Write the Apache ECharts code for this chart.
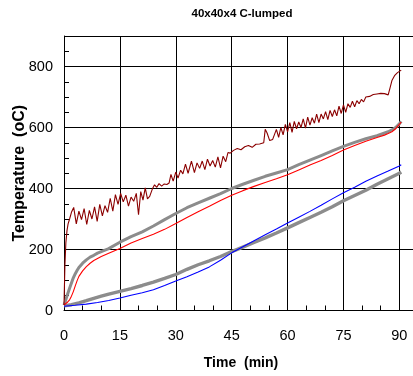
<!DOCTYPE html>
<html>
<head>
<meta charset="utf-8">
<script src="https://cdn.jsdelivr.net/npm/echarts@6/dist/echarts.min.js"></script>
<style>
  html, body { margin: 0; padding: 0; background: #fff; }
  #chart { width: 413px; height: 376px; }
</style>
</head>
<body>
<div id="chart"></div>
<script>
// Axis tick values
const timeTicks = [0, 15, 30, 45, 60, 75, 90];
const tempTicks = [0, 200, 400, 600, 800];

// Upper grey measured curve (time in min, temperature in oC)
const greyUpperT = [0, 0.3, 0.6, 1, 1.5, 2, 2.5, 3, 3.5, 4, 5, 6, 7, 8, 9, 10, 12, 15, 18, 21, 24, 27, 30, 33, 36, 39, 42, 45, 48, 51, 54, 57, 60, 63, 66, 69, 72, 75, 78, 81, 84, 87, 88, 89, 90, 90.5];
const greyUpperV = [18, 28, 40, 55, 73, 90, 107, 120, 131, 141, 155, 166, 175, 181, 188, 193, 203, 224, 242, 258, 277, 298, 318, 337, 353, 368, 383, 400, 414, 427, 440, 451, 462, 478, 493, 508, 523, 538, 551, 563, 573, 586, 592, 600, 612, 620];

// Lower grey measured curve
const greyLowerT = [0, 2, 4, 6, 8, 10, 12, 15, 18, 21, 24, 27, 30, 33, 36, 39, 42, 45, 48, 51, 54, 57, 60, 63, 66, 69, 72, 75, 78, 81, 84, 87, 90, 90.5];
const greyLowerV = [15, 19, 25, 32, 40, 47, 54, 63, 72, 82, 93, 105, 118, 135, 150, 163, 177, 193, 208, 223, 238, 254, 271, 288, 305, 322, 340, 360, 377, 394, 414, 432, 450, 454];

// Red curve
const redT = [0, 0.5, 1, 1.5, 2, 2.5, 3, 3.5, 4, 5, 6, 7, 8, 10, 12, 15, 18, 21, 24, 27, 30, 33, 36, 39, 42, 45, 48, 51, 54, 57, 60, 63, 66, 69, 72, 75, 78, 81, 84, 86, 87, 88, 89, 90, 90.5];
const redV = [18, 22, 28, 35, 47, 62, 80, 97, 112, 130, 144, 155, 164, 177, 188, 203, 221, 236, 250, 266, 285, 305, 324, 342, 361, 378, 393, 407, 420, 432, 445, 461, 477, 492, 508, 526, 541, 555, 567, 575, 580, 586, 596, 610, 618];

// Blue curve
const blueT = [0, 3, 6, 9, 12, 15, 18, 21, 24, 27, 30, 33, 36, 39, 42, 45, 48, 51, 54, 57, 60, 63, 66, 69, 72, 75, 78, 81, 84, 87, 90, 90.5];
const blueV = [14, 17, 21, 26, 33, 41, 50, 58, 68, 82, 97, 111, 126, 143, 165, 189, 209, 229, 248, 267, 287, 306, 325, 345, 366, 386, 404, 424, 441, 457, 474, 478];

// Dark red (noisy) curve
const darkT = [0, 0.25, 0.5, 0.8, 1.1, 1.5, 2.0, 2.6, 3.3, 4.0, 4.7, 5.4, 6.1, 6.8, 7.5, 8.2, 8.9, 9.6, 10.3, 11.0, 11.7, 12.4, 13.1, 13.8, 14.5, 15.2, 15.9, 16.6, 17.3, 18.0, 18.7, 19.4, 20.0, 20.6, 21.2, 21.8, 22.4, 23.0, 23.7, 24.3, 24.9, 25.5, 26.2, 26.9, 27.6, 28.2, 28.7, 29.3, 30.0, 30.6, 31.3, 31.9, 32.6, 33.3, 34.2, 35.0, 35.7, 36.4, 37.1, 37.8, 38.5, 39.2, 39.9, 40.6, 41.3, 42.0, 42.7, 43.4, 44.0, 44.6, 45.5, 46.5, 47.5, 48.5, 49.5, 50.5, 51.5, 52.5, 53.6, 54.0, 54.5, 55.2, 56.0, 56.5, 57.0, 57.6, 58.2, 58.8, 59.4, 60.0, 60.6, 61.2, 61.8, 62.4, 63.0, 63.6, 64.2, 64.8, 65.4, 66.0, 66.6, 67.2, 67.8, 68.4, 69.0, 69.6, 70.2, 70.8, 71.4, 72.0, 72.6, 73.2, 73.8, 74.4, 75.0, 75.6, 76.2, 76.8, 77.4, 78.0, 78.6, 79.2, 79.8, 80.4, 81.0, 82.0, 83.0, 84.0, 85.0, 86.0, 87.0, 87.5, 88.0, 88.7, 89.5, 90.5];
const darkV = [18, 150, 222, 262, 284, 300, 322, 338, 284, 326, 298, 334, 282, 328, 300, 340, 292, 348, 310, 344, 322, 368, 326, 380, 348, 384, 356, 378, 342, 372, 358, 384, 314, 390, 362, 402, 366, 374, 398, 412, 404, 416, 408, 415, 413, 418, 446, 424, 454, 434, 460, 448, 480, 450, 490, 452, 484, 466, 490, 462, 496, 474, 492, 470, 504, 468, 506, 488, 518, 516, 525, 531, 527, 537, 541, 535, 545, 546, 550, 594, 582, 557, 561, 555, 594, 568, 600, 576, 610, 586, 616, 584, 620, 596, 618, 600, 628, 598, 634, 608, 632, 614, 644, 616, 644, 628, 652, 626, 656, 636, 658, 638, 670, 646, 674, 650, 678, 666, 686, 668, 688, 678, 692, 684, 700, 702, 708, 710, 712, 711, 707, 730, 754, 770, 780, 788];

const pairs = (t, v) => t.map((x, i) => [x, v[i]]);

const font = 'Liberation Sans, Arial, Helvetica, sans-serif';
const lineLook = { lineStyle: { color: '#000', width: 1 } };

const chart = echarts.init(document.getElementById('chart'), null, { renderer: 'canvas' });

chart.setOption({
  animation: false,
  backgroundColor: '#fff',
  title: {
    text: '40x40x4 C-lumped',
    left: 237,
    top: 3,
    textAlign: 'center',
    textStyle: { fontFamily: font, fontSize: 11.5, fontWeight: 'bold', color: '#000' }
  },
  grid: { left: 64, right: -5, top: 36, bottom: 65.5, containLabel: false, outerBoundsMode: 'none' },
  xAxis: {
    type: 'value',
    min: 0,
    max: 95,
    interval: 15,
    name: 'Time  (min)',
    nameLocation: 'middle',
    nameGap: 46,
    nameMoveOverlap: false,
    nameTextStyle: { fontFamily: font, fontSize: 14, fontWeight: 'bold', color: '#000' },
    axisLine: { show: true, onZero: false, ...lineLook },
    axisTick: { show: true, inside: true, length: 7, ...lineLook },
    minorTick: { show: true, splitNumber: 3, length: 5, ...lineLook },
    splitLine: { show: true, ...lineLook },
    axisLabel: {
      margin: 18,
      fontFamily: font, fontSize: 14.5, color: '#000',
      formatter: v => (timeTicks.includes(v) ? String(v) : '')
    }
  },
  yAxis: {
    type: 'value',
    min: 0,
    max: 900,
    interval: 200,
    name: 'Temperature  (oC)',
    nameLocation: 'middle',
    nameGap: 36,
    nameMoveOverlap: false,
    nameTextStyle: { fontFamily: font, fontSize: 16, fontWeight: 'bold', color: '#000' },
    axisLine: { show: true, onZero: false, ...lineLook },
    axisTick: { show: true, inside: true, length: 7, ...lineLook },
    minorTick: { show: true, splitNumber: 4, length: 5, ...lineLook },
    splitLine: { show: true, ...lineLook },
    axisLabel: {
      margin: 11,
      fontFamily: font, fontSize: 14.5, color: '#000',
      formatter: v => (tempTicks.includes(v) ? String(v) : '')
    }
  },
  series: [
    {
      name: 'grey upper', type: 'line', showSymbol: false, z: 2,
      data: pairs(greyUpperT, greyUpperV),
      lineStyle: { color: '#8c8c8c', width: 3 }
    },
    {
      name: 'grey lower', type: 'line', showSymbol: false, z: 2,
      data: pairs(greyLowerT, greyLowerV),
      lineStyle: { color: '#8c8c8c', width: 3.4 }
    },
    {
      name: 'red', type: 'line', showSymbol: false, z: 3,
      data: pairs(redT, redV),
      lineStyle: { color: '#ff0000', width: 1.1 }
    },
    {
      name: 'blue', type: 'line', showSymbol: false, z: 3,
      data: pairs(blueT, blueV),
      lineStyle: { color: '#0000ff', width: 1.1 }
    },
    {
      name: 'dark red', type: 'line', showSymbol: false, z: 4,
      data: pairs(darkT, darkV),
      lineStyle: { color: '#8b0000', width: 1.1 }
    }
  ]
});
</script>
</body>
</html>
